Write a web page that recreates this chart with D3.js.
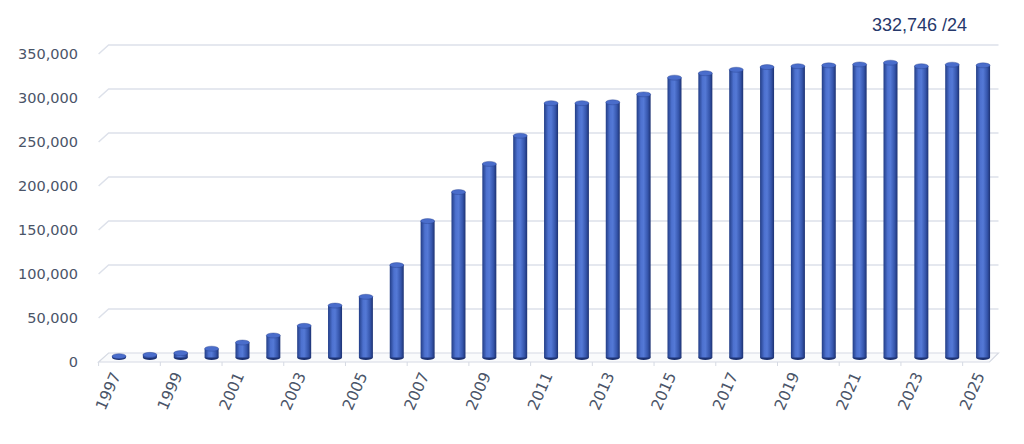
<!DOCTYPE html>
<html>
<head>
<meta charset="utf-8">
<script src="https://cdn.jsdelivr.net/npm/d3@7"></script>
<style>
  body { margin: 0; background: #fff; }
  #chart { width: 1024px; height: 444px; }
  text { font-family: "DejaVu Sans", Verdana, sans-serif; }
</style>
</head>
<body>
<div id="chart"></div>
<script>
// data
const years = d3.range(1997, 2026).map(String);
const values = [1500, 3000, 5000, 10000, 17000, 25000, 36000, 59000, 69000, 105000,
                155000, 188000, 220000, 252000, 289000, 289000, 290000, 299000, 318000, 323000,
                327000, 330000, 331000, 332000, 333000, 335000, 331000, 332746, 332000];
const yTicks = [0, 50000, 100000, 150000, 200000, 250000, 300000, 350000];
const labelYears = years.filter((d, i) => i % 2 === 0);
const note = "332,746 /24";

const W = 1024, H = 444;
const depth = {dx: 10, dy: -9};   // fake 3d offset of the back wall

const svg = d3.select("#chart").append("svg")
    .attr("width", W)
    .attr("height", H);

const x = d3.scaleBand()
    .domain(years)
    .range([98.6, 993.5]);

const y = d3.scaleLinear()
    .domain([0, 350000])
    .range([362, 54]);

// cylinder shading
const defs = svg.append("defs");
const grad = defs.append("linearGradient")
    .attr("id", "cyl")
    .attr("x1", "0%").attr("x2", "100%")
    .attr("y1", "0%").attr("y2", "0%");
grad.selectAll("stop")
    .data([
        {o: "0%", c: "#223d86"},
        {o: "30%", c: "#4d71cf"},
        {o: "50%", c: "#5479d6"},
        {o: "80%", c: "#3555ab"},
        {o: "100%", c: "#1d3272"}
    ])
    .join("stop")
    .attr("offset", d => d.o)
    .attr("stop-color", d => d.c);

// back wall gridlines
const x0 = x.range()[0], x1 = x.range()[1];
const grid = svg.append("g");
grid.selectAll("path")
    .data(yTicks.slice(1))
    .join("path")
    .attr("d", t => `M${x0},${y(t)} L${x0 + depth.dx},${y(t) + depth.dy} L${x1 + 5},${y(t) + depth.dy}`)
    .attr("fill", "none")
    .attr("stroke", "#dde1ea")
    .attr("stroke-width", 1.5);

// floor
svg.append("path")
    .attr("d", `M${x0},${y(0)} L${x0 + depth.dx},${y(0) + depth.dy} L${x1 + 5},${y(0) + depth.dy} L${x1 - 4},${y(0)} Z`)
    .attr("fill", "#fafbfc")
    .attr("stroke", "#d6dae3")
    .attr("stroke-width", 1.2);

// ticks on the front edge, every 2 categories
svg.append("g").selectAll("line")
    .data(d3.range(0, years.length + 1, 2))
    .join("line")
    .attr("x1", i => x0 + i * x.bandwidth())
    .attr("x2", i => x0 + i * x.bandwidth())
    .attr("y1", y(0))
    .attr("y2", y(0) + 4)
    .attr("stroke", "#d6dae3");

// y axis labels
const yAxis = svg.append("g")
    .attr("transform", "translate(78,0)")
    .call(d3.axisLeft(y).tickValues(yTicks).tickFormat(d3.format(",")).tickSize(0).tickPadding(0));
yAxis.select(".domain").remove();
yAxis.selectAll("text")
    .attr("fill", "#4a5468")
    .style("font-size", "14.5px")
    .style("font-family", "'DejaVu Sans', Verdana, sans-serif");

// x axis labels, rotated
svg.append("g").selectAll("text")
    .data(labelYears)
    .join("text")
    .attr("transform", d => `translate(${x(d) + x.bandwidth() / 2 + 2},${y(0) + 11}) rotate(-66)`)
    .attr("text-anchor", "end")
    .attr("dy", "0.35em")
    .attr("fill", "#4a5468")
    .style("font-size", "15.5px")
    .text(d => d);

// cylinders
const bw = 14, ry = 2.5;
const data = years.map((yr, i) => ({year: yr, value: values[i]}));
const bars = svg.append("g").selectAll("g")
    .data(data)
    .join("g")
    .attr("transform", d => `translate(${x(d.year) + x.bandwidth() / 2 + depth.dx / 2},${depth.dy / 2})`);

bars.append("ellipse")
    .attr("cx", 0)
    .attr("cy", y(0))
    .attr("rx", bw / 2)
    .attr("ry", ry)
    .attr("fill", "#1d3272");

bars.append("rect")
    .attr("x", -bw / 2)
    .attr("width", bw)
    .attr("y", d => y(d.value))
    .attr("height", d => y(0) - y(d.value))
    .attr("fill", "url(#cyl)");

bars.append("ellipse")
    .attr("cx", 0)
    .attr("cy", d => y(d.value))
    .attr("rx", bw / 2)
    .attr("ry", ry)
    .attr("fill", "#4a6dcb")
    .attr("stroke", "#26408a")
    .attr("stroke-width", 0.4);

// note top right
svg.append("text")
    .attr("x", 872)
    .attr("y", 31)
    .attr("fill", "#26386b")
    .style("font-family", "'Liberation Sans', Arial, sans-serif")
    .style("font-size", "18px")
    .text(note);
</script>
</body>
</html>
